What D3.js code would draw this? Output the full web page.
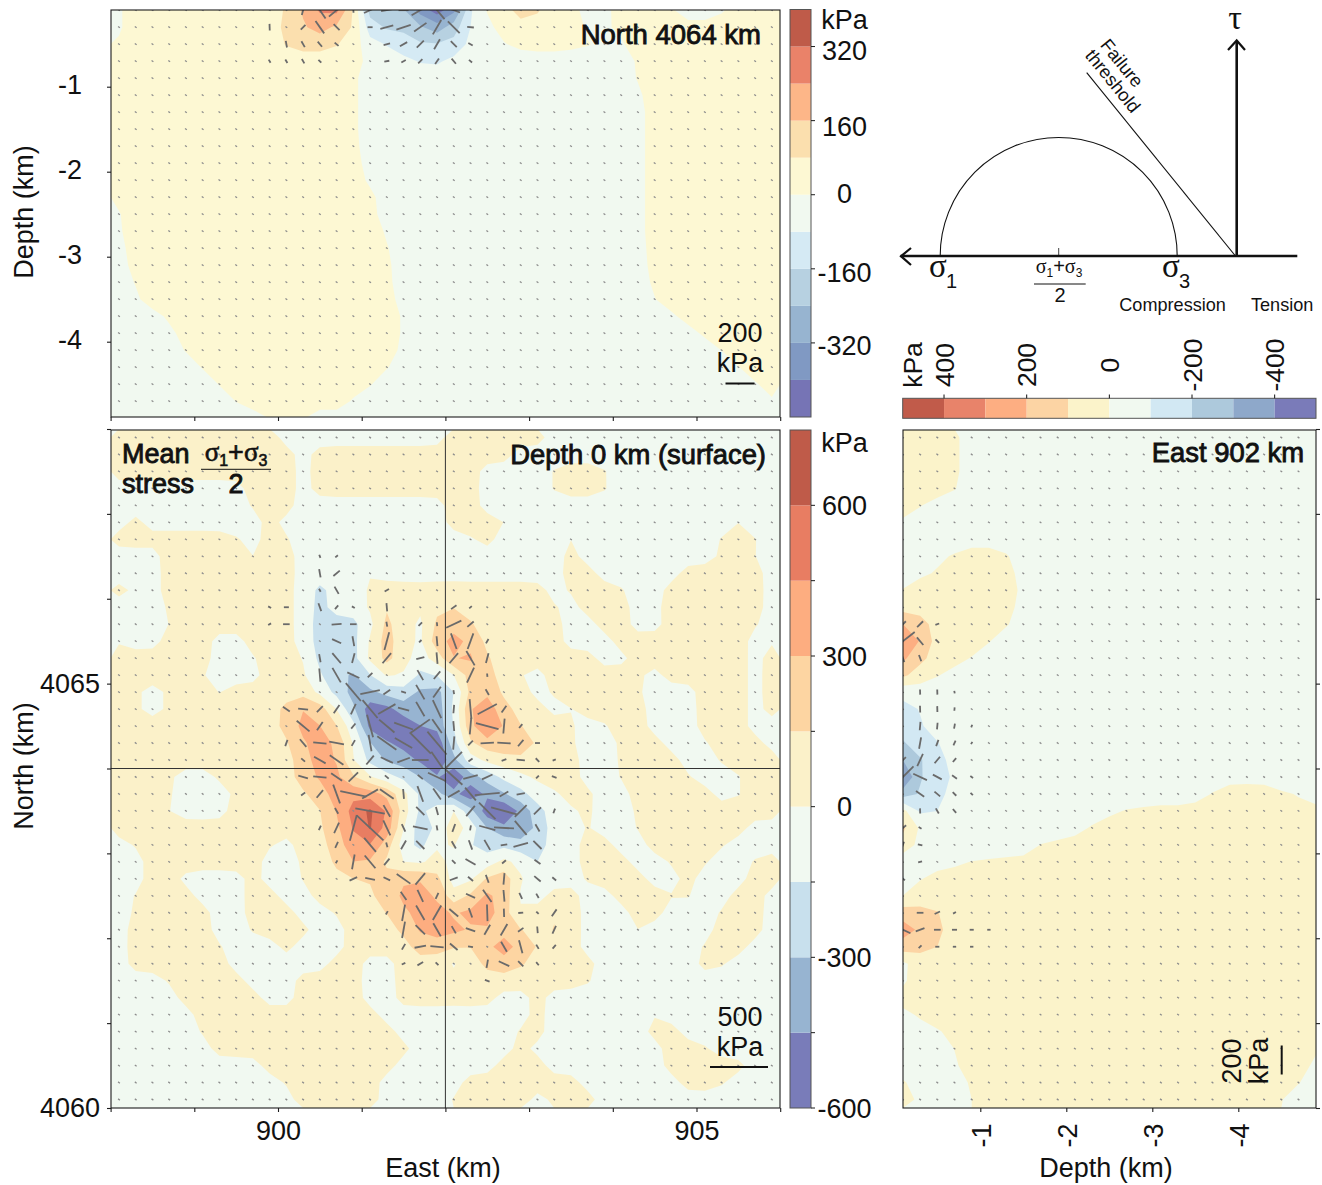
<!DOCTYPE html>
<html><head><meta charset="utf-8">
<script src="https://cdn.jsdelivr.net/npm/d3@7"></script>
<style>html,body{margin:0;padding:0;background:#fff}svg{display:block}text{font-family:"Liberation Sans",Arial,sans-serif;fill:#111}</style>
</head><body><svg id="c" width="1322" height="1185"></svg>
<script>
// ---------- colour bands ----------
const mainWarmLevels=[0,150,300,450,600];
const mainWarmColors=["#fbf1c9","#fdd5a2","#fdad80","#e87d62","#bf5b49"];
const mainCoolLevels=[-150,-300,-450];
const mainCoolColors=["#c8e0ed","#97b4d1","#797cb9"];
const mainGreen="#f1f9f1";
const topWarmLevels=[0,80,160,240,320];
const topWarmColors=["#fdf8d3","#fbdfae","#fdb688","#ea8269","#bf5b49"];
const topCoolLevels=[-80,-160,-240,-320,-400];
const topCoolColors=["#d5eaf4","#b7d1e1","#97b4d0","#8099c3","#7674b5"];
const eastWarmLevels=[0,100,200,300,400];
const eastWarmColors=["#fbf3ca","#fcd4a4","#fdae82","#e8836a","#c15b4a"];
const eastCoolLevels=[-100,-200,-300,-400];
const eastCoolColors=["#d2e8f3","#adc9dc","#8ea8ca","#7a7bb9"];

// ---------- stress field, surface (kPa), 40 rows north to south, 40 columns west to east ----------
const surfaceStress=[
[70,70,70,70,70,70,70,70,70,70, -70,-70,-70,-70,-70,-70,-70,-70,-70,-70, 70,70,70,70,70,70,-70,-70,-70,-70, -70,-70,-70,-70,-70,-70,-70,-70,-70,-70],
[70,70,70,70,70,70,70,70,70,70, 70,-70,70,70,70,70,70,70,70,70, 70,70,70,70,-70,-70,-70,-70,-70,-70, -70,-70,-70,-70,-70,-70,-70,-70,-70,-70],
[70,70,70,70,70,70,70,70,70,70, 70,-70,70,70,70,70,70,70,70,70, 70,70,-70,-70,-70,-70,20,70,70,20, -70,-70,-70,-70,-70,-70,-70,-70,-70,-70],
[-70,-70,-70,-70,-70,-70,-70,-70,70,70, 70,-70,70,70,70,70,70,70,70,70, 70,70,-70,-70,-70,-70,20,70,70,20, -70,-70,-70,-70,-70,-70,-70,-70,-70,-70],
[-70,-70,-70,-70,-70,-70,-70,-70,20,70, 70,-70,-70,-70,-70,-70,-70,-70,-70,-70, 70,70,-70,-70,-70,-70,-70,-70,-70,-70, 20,-70,-70,-70,-70,-70,-70,-70,-70,-70],
[-70,70,-70,-70,-70,-70,-70,-70,-70,70, -70,-70,-70,-70,-70,-70,-70,-70,-70,-70, 70,70,70,20,-70,-70,-70,-70,-70,-70, -70,-70,-70,-70,-70,-70,-70,20,-70,-70],
[70,70,70,70,70,70,70,20,-70,70, 20,-70,-70,-70,-70,-70,-70,-70,-70,-70, -70,-20,70,-70,-70,-70,-70,20,-70,-70, -70,-70,20,-70,-70,-70,20,70,20,-70],
[-70,-70,-70,70,70,70,70,70,-20,70, 70,-70,-70,-70,30,-70,-70,-70,-70,-70, -70,-70,-70,-70,-70,-70,-70,70,-70,-70, -70,-70,20,-70,-70,-70,20,70,-10,-70],
[-70,-70,-70,70,70,70,70,70,70,70, 70,-70,-70,-70,-70,20,-70,-70,-70,-70, -70,-70,-70,-70,-70,-70,-70,70,70,-70, -70,-70,-70,-70,70,70,70,70,70,-70],
[70,-20,-70,70,70,70,70,70,70,70, 70,-70,-220,-100,-70,20,70,70,70,70, 70,70,70,70,70,70,-70,20,70,70, 20,-70,-70,70,70,70,70,70,70,-70],
[-70,-70,-70,20,70,70,70,70,70,70, 70,-70,-220,-70,-70,20,160,60,10,120, 160,70,70,70,70,70,20,-70,70,70, 70,-70,-30,70,-20,70,70,70,70,-70],
[-70,-70,-70,-10,70,70,70,70,70,70, 70,-70,-220,-220,-220,-70,240,50,-70,200, 230,170,70,70,70,70,70,-70,-70,70, 70,-70,-70,70,70,70,70,70,20,-70],
[-10,-70,-70,70,70,70,-70,-70,70,70, 70,-70,-220,-220,-220,20,270,30,-60,280, 400,260,100,70,70,70,70,-70,-70,-70, 70,70,70,70,70,70,70,70,-70,-10],
[70,70,70,70,70,70,-70,-70,-20,70, 70,20,-220,-220,-220,70,250,60,-100,60, 360,360,150,70,70,70,70,70,70,-70, -70,70,70,70,70,70,70,70,-70,70],
[70,70,70,70,-20,10,-70,-70,-70,70, 70,20,-120,-300,-340,-170,50,20,-200,-140, -50,240,230,70,-10,-70,70,70,70,70, 70,20,-70,70,70,70,70,70,-70,70],
[70,20,-70,20,70,70,-30,70,70,70, 70,100,-70,-200,-400,-320,-250,-200,-340,-400, -180,200,280,100,70,-70,20,70,70,70, 70,20,-70,-70,-70,70,70,70,-70,70],
[70,20,-70,20,70,70,70,70,70,70, 200,330,280,0,-280,-600,-520,-350,-400,-420, -130,350,420,200,70,70,-70,-20,70,70, 70,70,-70,-70,-70,70,70,70,-70,70],
[70,70,70,70,70,70,70,70,70,70, 200,380,300,170,-60,-560,-620,-600,-430,-400, -160,280,540,280,140,70,70,20,-70,-20, 70,70,-70,-70,-70,70,70,70,-70,-70],
[70,70,70,70,70,70,70,70,70,70, 120,280,400,300,-10,-290,-420,-520,-540,-620, -200,160,230,280,300,120,70,20,-70,-70, 20,70,70,-70,-70,-20,70,70,70,-70],
[70,70,70,70,70,70,70,70,70,70, 70,230,400,310,-30,-200,-350,-370,-480,-680, -300,-50,60,90,110,70,70,70,-70,-70, 20,70,70,70,-70,-70,20,70,70,70],
[70,70,70,20,-70,-70,30,70,70,70, 70,230,340,350,160,-20,-100,-200,-290,-400, -700,-330,-270,-100,-30,30,70,70,-70,-70, 20,70,70,70,20,-70,-70,-20,70,70],
[-20,70,70,20,-70,-70,-70,20,70,70, 70,120,200,420,430,400,280,90,-190,-250, -420,-680,-380,-300,-200,-50,-30,50,50,-70, -70,70,70,70,70,70,-70,-20,70,70],
[70,70,70,-10,-70,-70,-70,70,70,70, 70,70,130,290,530,700,470,60,-220,-60, 80,-200,-640,-680,-420,-220,-60,-20,40,-70, -70,20,70,70,70,70,70,70,70,70],
[70,70,70,70,70,70,70,70,70,70, 70,70,120,260,460,680,420,0,-280,-170, 170,-40,-280,-420,-500,-250,-60,-70,20,-70, -70,20,70,70,70,70,70,70,-70,-70],
[-70,20,70,70,70,70,70,70,70,20, -70,70,70,230,400,470,230,-120,-250,20, 20,-160,-230,-180,-220,-250,-60,-70,70,70, -70,-70,70,70,70,70,20,-70,-70,-70],
[-70,-70,70,70,70,70,70,70,70,-70, -70,20,70,170,330,290,90,-40,-50,60, -40,-180,-100,70,-40,-160,-70,-70,70,70, 70,-70,-70,20,70,20,-70,-70,20,70],
[-70,-70,70,70,-70,-70,-70,-70,70,-70, -70,20,70,110,140,140,200,330,320,230, -130,-50,200,290,30,-170,-70,-70,20,70, 70,70,-70,-70,70,-70,-70,-70,70,70],
[-70,20,70,70,70,-70,-70,-70,70,70, -70,-70,70,70,70,130,220,340,400,290, 0,180,370,260,-60,-70,60,70,-70,-70, 70,70,70,20,20,-70,-70,70,70,-70],
[-70,20,70,70,70,70,-70,-70,70,70, 70,-70,-70,20,70,70,150,290,340,360, 290,360,420,200,-30,70,170,90,-70,-70, -70,70,70,-70,-70,-70,20,70,70,-70],
[-70,70,70,70,70,70,-70,-70,20,70, 70,70,-70,-70,70,70,70,180,330,420, 360,290,260,240,160,100,180,90,-70,-70, -70,20,-70,-70,-70,-70,70,70,70,-70],
[-70,70,70,70,70,70,20,-70,-70,-70, 70,-70,-70,-70,70,70,70,70,240,200, 170,120,280,420,270,140,100,70,-70,-70, -70,-70,-70,-70,-70,20,70,70,-70,-70],
[-70,70,70,70,70,70,70,-70,-70,-70, -70,-70,-70,70,70,-70,-70,70,70,70, -70,70,200,260,170,70,70,70,70,-70, -70,-70,-70,-70,-70,70,20,-70,-70,-70],
[-70,-70,-70,20,70,70,70,70,-70,-70, -70,70,70,70,70,-70,-70,70,70,70, 20,70,70,70,70,70,70,70,20,-70, -70,-70,-70,-70,-70,-70,-70,-70,-70,-70],
[-70,-70,-70,-70,70,70,70,70,70,-70, -70,70,70,70,70,-70,-70,70,70,70, 70,70,70,-70,-70,70,-70,-70,-70,-70, -70,-70,-70,-70,-70,-70,-70,-70,-70,-70],
[-70,-70,-70,-70,-70,70,70,70,70,70, 70,70,70,70,70,70,-70,-70,-70,-70, -70,-70,-70,-70,-70,70,-70,-70,-70,-70, -70,-70,10,-70,-70,-70,-70,-70,-70,-70],
[-70,-70,-70,-70,-70,20,70,70,70,70, 70,70,70,70,70,70,70,-70,-70,-70, -70,-70,-70,-70,20,70,-70,-70,-70,-70, -70,-70,70,70,-70,-70,-70,-70,-70,-70],
[-70,-70,-70,-70,-70,-70,70,70,70,70, 70,70,70,70,70,70,70,70,-70,-70, -70,-70,-70,-70,70,-70,-70,-70,-70,-70, -70,-70,-70,70,70,20,-70,-70,-70,-70],
[-70,-70,-70,-70,-70,-70,-70,-70,-70,70, 70,70,70,70,70,70,70,-70,-70,-70, -70,-70,-70,70,70,70,-70,-70,-70,-70, -70,-70,-70,70,70,70,70,70,-70,-70],
[-70,-70,-70,-70,-70,-70,-70,-70,-70,-70, 20,70,70,70,70,70,-70,-70,-70,-70, -70,70,70,70,70,70,70,70,-70,-70, -70,-70,-70,-70,70,70,20,-70,-70,-70],
[-70,-70,-70,-70,-70,-70,-70,-70,-70,-70, -70,70,70,70,70,70,-70,-70,-70,-70, 20,70,70,70,70,-70,20,70,70,-70, -70,-70,-70,-70,-70,-70,-70,-70,-70,-70]
];

// ---------- stress field, section at North 4064 km: 25 rows by depth, 40 columns ----------
const northStress=[
[-10,40,40,40,40,40,40,40,40,60, 85,170,250,260,70,-190,-210,-230,-350,-440, -340,-90,5,60,100,85,50,20,-20,-20, 30,40,40,5,-20,-20,-10,40,40,40],
[-10,40,40,40,40,40,40,40,40,40, 100,150,190,145,70,-120,-170,-180,-230,-280, -200,-80,-20,30,60,60,60,60,-15,-15, 20,40,40,15,15,15,40,40,40,40],
[10,40,40,40,40,40,40,40,40,40, 85,110,110,85,40,-50,-85,-120,-150,-155, -130,-60,-40,-5,20,30,30,20,5,-20, -10,40,40,40,40,40,40,40,40,40],
[40,40,40,40,40,40,40,40,40,40, 40,40,40,40,40,-30,-40,-60,-85,-90, -60,-30,-40,-40,-40,-40,-40,-40,-40,-40, -40,10,40,40,40,40,40,40,40,40],
[40,40,40,40,40,40,40,40,40,40, 40,40,40,40,20,-50,-40,-40,-40,-40, -40,-40,-40,-40,-40,-40,-40,-40,-40,-40, -40,5,40,40,40,40,40,40,40,40],
[40,40,40,40,40,40,40,40,40,40, 40,40,40,40,20,-50,-40,-40,-40,-40, -40,-40,-40,-40,-40,-40,-40,-40,-40,-40, -40,-15,40,40,40,40,40,40,40,40],
[40,40,40,40,40,40,40,40,40,40, 40,40,40,40,20,-50,-40,-40,-40,-40, -40,-40,-40,-40,-40,-40,-40,-40,-40,-40, -40,-30,40,40,40,40,40,40,40,40],
[40,40,40,40,40,40,40,40,40,40, 40,40,40,40,20,-50,-40,-40,-40,-40, -40,-40,-40,-40,-40,-40,-40,-40,-40,-40, -40,-30,40,40,40,40,40,40,40,40],
[40,40,40,40,40,40,40,40,40,40, 40,40,40,40,25,-45,-40,-40,-40,-40, -40,-40,-40,-40,-40,-40,-40,-40,-40,-40, -40,-30,40,40,40,40,40,40,40,40],
[40,40,40,40,40,40,40,40,40,40, 40,40,40,40,30,-30,-40,-40,-40,-40, -40,-40,-40,-40,-40,-40,-40,-40,-40,-40, -40,-30,40,40,40,40,40,40,40,40],
[30,40,40,40,40,40,40,40,40,40, 40,40,40,40,40,-15,-40,-40,-40,-40, -40,-40,-40,-40,-40,-40,-40,-40,-40,-40, -40,-30,40,40,40,40,40,40,40,40],
[20,40,40,40,40,40,40,40,40,40, 40,40,40,40,40,20,-40,-40,-40,-40, -40,-40,-40,-40,-40,-40,-40,-40,-40,-40, -40,-30,40,40,40,40,40,40,40,40],
[-5,40,40,40,40,40,40,40,40,40, 40,40,40,40,40,30,-40,-40,-40,-40, -40,-40,-40,-40,-40,-40,-40,-40,-40,-40, -40,-30,40,40,40,40,40,40,40,40],
[-10,40,40,40,40,40,40,40,40,40, 40,40,40,40,40,40,-10,-40,-40,-40, -40,-40,-40,-40,-40,-40,-40,-40,-40,-40, -40,-30,40,40,40,40,40,40,40,40],
[-20,30,40,40,40,40,40,40,40,40, 40,40,40,40,40,40,5,-40,-40,-40, -40,-40,-40,-40,-40,-40,-40,-40,-40,-40, -40,-35,35,40,40,40,40,40,40,40],
[-30,25,40,40,40,40,40,40,40,40, 40,40,40,40,40,40,15,-40,-40,-40, -40,-40,-40,-40,-40,-40,-40,-40,-40,-40, -40,-40,30,40,40,40,40,40,40,40],
[-40,5,40,40,40,40,40,40,40,40, 40,40,40,40,40,40,20,-40,-40,-40, -40,-40,-40,-40,-40,-40,-40,-40,-40,-40, -40,-40,15,40,40,40,40,40,40,40],
[-40,-15,40,40,40,40,40,40,40,40, 40,40,40,40,40,40,30,-30,-40,-40, -40,-40,-40,-40,-40,-40,-40,-40,-40,-40, -40,-40,-3,40,40,40,40,40,40,40],
[-40,-40,-30,15,40,40,40,40,40,40, 40,40,40,40,40,40,40,-10,-40,-40, -40,-40,-40,-40,-40,-40,-40,-40,-40,-40, -40,-40,-40,-15,30,40,40,40,40,40],
[-40,-40,-40,-20,30,40,40,40,40,40, 40,40,40,40,40,40,40,-10,-40,-40, -40,-40,-40,-40,-40,-40,-40,-40,-40,-40, -40,-40,-40,-40,-30,15,40,40,40,40],
[-40,-40,-40,-40,5,40,40,40,40,40, 40,40,40,40,40,40,35,-20,-40,-40, -40,-40,-40,-40,-40,-40,-40,-40,-40,-40, -40,-40,-40,-40,-40,-40,1,40,40,40],
[-40,-40,-40,-40,-40,5,40,40,40,40, 40,40,40,40,40,40,5,-40,-40,-40, -40,-40,-40,-40,-40,-40,-40,-40,-40,-40, -40,-40,-40,-40,-40,-40,-40,-3,40,40],
[-40,-40,-40,-40,-40,-40,3,40,40,40, 40,40,40,40,40,5,-40,-40,-40,-40, -40,-40,-40,-40,-40,-40,-40,-40,-40,-40, -40,-40,-40,-40,-40,-40,-40,-40,-8,30],
[-40,-40,-40,-40,-40,-40,-40,2,40,40, 40,40,40,40,-10,-40,-40,-40,-40,-40, -40,-40,-40,-40,-40,-40,-40,-40,-40,-40, -40,-40,-40,-40,-40,-40,-40,-40,-40,-10],
[-40,-40,-40,-40,-40,-40,-40,-40,-40,3, 20,5,-40,-40,-40,-40,-40,-40,-40,-40, -40,-40,-40,-40,-40,-40,-40,-40,-40,-40, -40,-40,-40,-40,-40,-40,-40,-40,-40,-40]
];

// ---------- stress field, section at East 902 km: 40 rows north to south, 25 columns by depth ----------
const eastStress=[
[50,50,50,20,-50,-50,-50,-50,-50,-50, -50,-50,-50,-50,-50,-50,-50,-50,-50,-50, -50,-50,-50,-50,-50],
[50,50,50,20,-50,-50,-50,-50,-50,-50, -50,-50,-50,-50,-50,-50,-50,-50,-50,-50, -50,-50,-50,-50,-50],
[50,50,50,20,-50,-50,-50,-50,-50,-50, -50,-50,-50,-50,-50,-50,-50,-50,-50,-50, -50,-50,-50,-50,-50],
[50,50,50,5,-50,-50,-50,-50,-50,-50, -50,-50,-50,-50,-50,-50,-50,-50,-50,-50, -50,-50,-50,-50,-50],
[30,5,-40,-50,-50,-50,-50,-50,-50,-50, -50,-50,-50,-50,-50,-50,-50,-50,-50,-50, -50,-50,-50,-50,-50],
[-10,-50,-50,-50,-50,-50,-50,-50,-50,-50, -50,-50,-50,-50,-50,-50,-50,-50,-50,-50, -50,-50,-50,-50,-50],
[-50,-50,-50,-50,-50,-50,-50,-50,-50,-50, -50,-50,-50,-50,-50,-50,-50,-50,-50,-50, -50,-50,-50,-50,-50],
[-50,-50,-20,10,50,50,10,-50,-50,-50, -50,-50,-50,-50,-50,-50,-50,-50,-50,-50, -50,-50,-50,-50,-50],
[-50,-20,10,50,50,50,30,-30,-50,-50, -50,-50,-50,-50,-50,-50,-50,-50,-50,-50, -50,-50,-50,-50,-50],
[5,50,50,50,50,50,50,-25,-50,-50, -50,-50,-50,-50,-50,-50,-50,-50,-50,-50, -50,-50,-50,-50,-50],
[60,50,50,50,50,50,30,-30,-50,-50, -50,-50,-50,-50,-50,-50,-50,-50,-50,-50, -50,-50,-50,-50,-50],
[200,150,50,50,50,50,10,-50,-50,-50, -50,-50,-50,-50,-50,-50,-50,-50,-50,-50, -50,-50,-50,-50,-50],
[310,190,60,50,50,5,-50,-50,-50,-50, -50,-50,-50,-50,-50,-50,-50,-50,-50,-50, -50,-50,-50,-50,-50],
[220,130,50,30,-5,-50,-50,-50,-50,-50, -50,-50,-50,-50,-50,-50,-50,-50,-50,-50, -50,-50,-50,-50,-50],
[120,50,5,-30,-50,-50,-50,-50,-50,-50, -50,-50,-50,-50,-50,-50,-50,-50,-50,-50, -50,-50,-50,-50,-50],
[-70,-50,-50,-50,-50,-50,-50,-50,-50,-50, -50,-50,-50,-50,-50,-50,-50,-50,-50,-50, -50,-50,-50,-50,-50],
[-130,-95,-50,-50,-50,-50,-50,-50,-50,-50, -50,-50,-50,-50,-50,-50,-50,-50,-50,-50, -50,-50,-50,-50,-50],
[-150,-110,-60,-50,-50,-50,-50,-50,-50,-50, -50,-50,-50,-50,-50,-50,-50,-50,-50,-50, -50,-50,-50,-50,-50],
[-210,-150,-105,-50,-50,-50,-50,-50,-50,-50, -50,-50,-50,-50,-50,-50,-50,-50,-50,-50, -50,-50,-50,-50,-50],
[-300,-210,-130,-70,-50,-50,-50,-50,-50,-50, -50,-50,-50,-50,-50,-50,-50,-50,-50,-50, -50,-50,-50,-50,-50],
[-410,-210,-140,-85,-50,-50,-50,-50,-50,-50, -50,-50,-50,-50,-50,-50,-50,-50,-50,-25, -25,-25,-50,-50,-50],
[-250,-190,-125,-70,-50,-50,-50,-50,-50,-50, -50,-50,-50,-50,-50,-50,-50,-40,5,30, 35,30,12,-5,-15],
[30,-115,-100,-50,-50,-50,-50,-50,-50,-50, -50,-50,-15,5,15,25,25,40,50,50, 50,50,50,20,10],
[120,-15,-50,-50,-50,-50,-50,-50,-50,-50, -30,10,30,50,50,50,50,50,50,50, 50,50,50,50,50],
[60,-30,-50,-50,-50,-50,-50,-50,2,20, 35,50,50,50,50,50,50,50,50,50, 50,50,50,50,50],
[-60,-40,-30,-15,2,10,18,30,50,50, 50,50,50,50,50,50,50,50,50,50, 50,50,50,50,50],
[-110,-5,25,35,50,50,50,50,50,50, 50,50,50,50,50,50,50,50,50,50, 50,50,50,50,50],
[2,50,50,50,50,50,50,50,50,50, 50,50,50,50,50,50,50,50,50,50, 50,50,50,50,50],
[150,130,105,50,50,50,50,50,50,50, 50,50,50,50,50,50,50,50,50,50, 50,50,50,50,50],
[250,180,125,50,50,50,50,50,50,50, 50,50,50,50,50,50,50,50,50,50, 50,50,50,50,50],
[150,130,100,50,50,50,50,50,50,50, 50,50,50,50,50,50,50,50,50,50, 50,50,50,50,50],
[-20,50,50,50,50,50,50,50,50,50, 50,50,50,50,50,50,50,50,50,50, 50,50,50,50,50],
[-15,50,50,50,50,50,50,50,50,50, 50,50,50,50,50,50,50,50,50,50, 50,50,50,50,50],
[30,50,50,50,50,50,50,50,50,50, 50,50,50,50,50,50,50,50,50,50, 50,50,50,50,50],
[-20,10,50,50,50,50,50,50,50,50, 50,50,50,50,50,50,50,50,50,50, 50,50,50,50,50],
[-50,-30,-10,30,50,50,50,50,50,50, 50,50,50,50,50,50,50,50,50,50, 50,50,50,50,50],
[-50,-50,-50,2,50,50,50,50,50,50, 50,50,50,50,50,50,50,50,50,50, 50,50,50,50,10],
[-50,-50,-50,-15,50,50,50,50,50,50, 50,50,50,50,50,50,50,50,50,50, 50,50,50,30,-15],
[10,-40,-50,-50,15,50,50,50,50,50, 50,50,50,50,50,50,50,50,50,50, 50,50,50,3,-30],
[40,-20,-50,-50,0,50,50,50,50,50, 50,50,50,50,50,50,50,50,50,50, 50,50,3,-30,-50]
];

// ---------- long stress bars: [column, row, differential stress kPa, azimuth deg] ----------
const surfaceBars=[[12,7,29,70],[13,7,29,-40],[12,8,72,80],[13,8,72,-40],[12,9,29,60],[13,9,72,60],[16,9,43,-30],
[9,10,29,30],[10,10,43,0],[12,10,72,70],[13,10,43,-50],[14,10,29,30],[16,10,72,85],[20,10,57,-35],[21,10,29,-40],
[9,11,29,-30],[10,11,57,0],[13,11,86,-5],[14,11,57,0],[16,11,43,80],[18,11,43,-45],[19,11,34,85],[20,11,144,-25],[21,11,72,-40],
[13,12,86,25],[14,12,86,80],[16,12,158,-75],[18,12,29,-45],[19,12,86,85],[20,12,144,70],[21,12,144,-70],[22,12,43,-60],
[12,13,72,80],[13,13,115,50],[14,13,86,-75],[16,13,115,-50],[18,13,72,-15],[19,13,100,85],[20,13,115,-50],[21,13,144,60],[22,13,86,-75],
[12,14,115,85],[13,14,144,60],[14,14,115,25],[15,14,57,-45],[18,14,100,60],[19,14,86,-50],[21,14,144,-65],[22,14,29,85],
[14,15,201,50],[15,15,172,-12],[16,15,72,-35],[17,15,43,15],[18,15,144,60],[19,15,115,-55],[20,15,34,80],[22,15,57,60],
[10,16,72,35],[11,16,86,5],[12,16,72,-45],[13,16,86,-55],[14,16,100,-65],[15,16,201,50],[16,16,172,-30],[17,16,100,15],[18,16,144,60],[19,16,172,65],[20,16,72,-85],[21,16,172,85],[22,16,187,-28],[23,16,72,-55],
[11,17,144,40],[12,17,86,-55],[14,17,57,-50],[15,17,201,75],[16,17,172,40],[17,17,172,20],[18,17,201,-35],[19,17,144,55],[20,17,86,85],[21,17,144,-85],[22,17,201,15],[23,17,129,-85],[24,17,43,-50],
[10,18,57,-70],[11,18,86,50],[12,18,115,5],[13,18,129,10],[14,18,57,-60],[15,18,144,80],[16,18,201,35],[17,18,172,30],[18,18,258,45],[19,18,258,50],[20,18,115,-85],[21,18,57,-45],[22,18,115,-3],[23,18,115,3],[24,18,72,-50],[25,18,43,0],
[11,19,43,40],[12,19,115,30],[13,19,144,35],[15,19,100,-50],[16,19,115,25],[17,19,115,-20],[18,19,144,0],[19,19,172,55],[20,19,201,-45],[21,19,43,-35],[23,19,43,-20],[24,19,72,5],[25,19,43,45],[26,19,29,-20],
[11,20,86,15],[12,20,115,5],[13,20,115,35],[14,20,115,-45],[16,20,43,40],[18,20,57,40],[19,20,172,25],[20,20,200,42],[21,20,129,-15],[22,20,100,-25],[25,20,34,-45],[26,20,43,20],
[11,21,43,-35],[12,21,86,-50],[13,21,172,70],[14,21,230,12],[15,21,158,-30],[16,21,144,35],[17,21,86,85],[18,21,144,70],[19,21,115,55],[20,21,115,-30],[21,21,144,50],[22,21,215,-5],[23,21,86,-30],[24,21,72,-10],
[13,22,57,60],[15,22,258,10],[16,22,115,60],[18,22,100,45],[19,22,72,75],[21,22,115,-50],[22,22,201,45],[23,22,230,15],[24,22,144,-45],[25,22,86,-45],[26,22,43,-70],
[12,23,43,-65],[13,23,100,-65],[14,23,230,-75],[15,23,316,43],[16,23,144,65],[17,23,72,65],[18,23,129,12],[19,23,43,80],[20,23,72,-70],[21,23,43,-80],[22,23,144,15],[23,23,172,3],[24,23,158,50],[25,23,72,60],
[13,24,57,-65],[15,24,158,50],[16,24,43,75],[17,24,86,-60],[18,24,100,45],[20,24,72,60],[21,24,86,70],[22,24,100,60],[23,24,57,-10],[24,24,129,-15],[25,24,100,45],
[13,25,29,-60],[14,25,129,-80],[15,25,144,50],[16,25,72,-50],[20,25,43,45],[21,25,100,30],[23,25,43,-40],[25,25,63,35],
[14,26,72,-25],[15,26,86,12],[16,26,63,25],[17,26,144,35],[18,26,129,-50],[20,26,72,-20],[21,26,57,40],[22,26,72,70],[23,26,100,-85],[25,26,72,40],[26,26,43,40],
[17,27,86,55],[18,27,115,65],[19,27,57,-65],[21,27,86,25],[22,27,129,55],[23,27,100,85],[24,27,57,65],[25,27,43,60],
[16,28,34,-60],[17,28,144,-80],[18,28,144,60],[19,28,144,-60],[20,28,100,40],[21,28,86,70],[22,28,144,88],[23,28,72,88],[24,28,43,-5],[25,28,29,45],[26,28,72,-55],
[17,29,144,-80],[18,29,115,45],[19,29,129,60],[20,29,72,60],[21,29,86,20],[22,29,100,-60],[23,29,115,-60],[24,29,57,-35],[25,29,57,85],[26,29,72,-65],
[17,30,57,-60],[18,30,100,-10],[19,30,115,5],[20,30,86,40],[21,30,43,10],[23,30,100,60],[24,30,115,75],[25,30,43,60],[26,30,43,-50],
[17,31,34,-25],[18,31,57,-30],[19,31,34,45],[22,31,72,-80],[23,31,100,25],[24,31,63,45],[25,31,34,50],[22,32,43,20]];
const northBars=[[11,0,69,-75],[12,0,138,55],[13,0,138,-40],[14,0,35,85],[15,0,92,-25],[16,0,80,-10],[17,0,69,0],[18,0,138,-30],[19,0,161,50],[20,0,92,20],
[9,1,46,88],[11,1,46,-45],[12,1,104,55],[13,1,58,45],[15,1,35,0],[16,1,92,-15],[17,1,104,-18],[18,1,104,-35],[19,1,115,-60],[20,1,115,45],[21,1,46,5],
[10,2,46,80],[11,2,46,60],[12,2,46,50],[13,2,35,40],[16,2,46,-15],[17,2,58,-30],[18,2,69,-45],[19,2,80,-60],[20,2,58,45],[21,2,35,30],
[9,3,25,60],[10,3,28,60],[11,3,35,60],[12,3,28,45],[16,3,35,-10],[17,3,35,-30],[18,3,41,-45],[19,3,46,-55],[20,3,46,50],[21,3,28,40]];
const eastBars=[[0,11,58,-45],[1,11,58,-45],[2,11,28,-20],[0,12,207,-38],[1,12,69,50],[2,12,35,45],[0,13,58,70],[1,13,46,70],
[1,15,35,88],[2,15,35,88],[3,15,18,80],[1,16,46,88],[2,16,41,88],[3,16,23,-85],[1,17,58,-85],[2,17,46,-85],[3,17,35,-80],[4,17,20,-70],
[1,18,80,-80],[2,18,46,-70],[3,18,35,-65],[4,18,18,-60],[0,19,58,-45],[1,19,92,-65],[2,19,58,-50],[3,19,35,-50],
[0,20,207,-45],[1,20,104,25],[2,20,69,28],[3,20,41,35],[4,20,23,35],[1,21,69,35],[2,21,51,40],[3,21,35,45],[4,21,23,45],
[1,22,35,88],[2,22,41,60],[3,22,35,50],[0,23,58,-40],[1,23,23,30],[0,24,46,-70],[1,24,32,15],[1,25,28,-15],[0,26,35,35],
[1,28,46,0],[2,28,41,-25],[3,28,23,-30],[0,29,115,25],[1,29,64,-20],[2,29,46,0],[3,29,35,0],[4,29,28,0],[5,29,23,0],
[1,30,28,-45],[2,30,28,0],[3,30,23,0],[4,30,23,0]];

// ---------- axis ticks ----------
const eastTicks=[898,899,900,901,902,903,904,905,906];
const eastLabelled=[900,905];
const northTicks=[4060,4061,4062,4063,4064,4065,4066,4067,4068];
const northLabelled=[4060,4065];
const depthTicks=[-1,-2,-3,-4];
const mainBarTicks=[-600,-450,-300,-150,0,150,300,450,600];
const mainBarLabels=[-600,-300,0,300,600];
const topBarTicks=[-320,-160,0,160,320];
const sideBarTicks=[400,200,0,-200,-400];

// ---------- scales (km) ----------
const xEast=d3.scaleLinear().domain([898,906]).range([110.6,780.2]);
const yNorth=d3.scaleLinear().domain([4060,4068]).range([1108,429]);
const yDepth=d3.scaleLinear().domain([0,-4]).range([1.7,341.7]);
const xDepth=d3.scaleLinear().domain([0,-4]).range([894.3,1238.3]);
const nodeEast=i=>898.1+0.2*i, nodeNorth=j=>4067.9-0.2*j, nodeDepth=k=>-0.1-0.2*k;
const yBar=d3.scaleLinear().domain([-600,750]).range([1108,430]);
const yTopBar=d3.scaleLinear().domain([-480,400]).range([417,9.5]);
const xSideBar=d3.scaleLinear().domain([500,-500]).range([902.7,1316]);

const svg=d3.select("#c");
const ink="#1c1c1c";
const defs=svg.append("defs");

// light relaxation of a grid so that the filled contours are not stair-stepped
function relax(vals,n,m,w){
  return vals.map((v,idx)=>{
    const i=idx%n,j=Math.floor(idx/n);
    const nb=[i>0?vals[idx-1]:v,i<n-1?vals[idx+1]:v,j>0?vals[idx-n]:v,j<m-1?vals[idx+n]:v];
    return (1-4*w)*v+w*d3.sum(nb);
  });
}

function field(cfg){
  const {rows,box,px,py,warm,warmC,cool,coolC,base,bars,stress,skipLastCol,skipLastRow,id,soften}=cfg;
  const m=rows.length,n=rows[0].length;
  let vals=rows.flatMap(r=>d3.range(n).map(i=>r[i]??r[r.length-1]));
  if(soften)vals=relax(vals,n,m,soften);
  const sx=d3.scaleLinear().domain([.5,n-.5]).range([px(0),px(n-1)]);
  const sy=d3.scaleLinear().domain([.5,m-.5]).range([py(0),py(m-1)]);
  const path=d3.geoPath(d3.geoTransform({point(x,y){this.stream.point(sx(x),sy(y));}}));
  defs.append("clipPath").attr("id",id).append("rect").attr("x",box[0]).attr("y",box[1]).attr("width",box[2]).attr("height",box[3]);
  const g=svg.append("g").attr("clip-path",`url(#${id})`);
  g.append("rect").attr("x",box[0]).attr("y",box[1]).attr("width",box[2]).attr("height",box[3]).attr("fill",base);
  const gen=d3.contours().size([n,m]).smooth(true);
  warm.forEach((t,i)=>g.append("path").attr("d",path(gen.contour(vals,t))).attr("fill",warmC[i]));
  const neg=vals.map(v=>-v);
  cool.forEach((t,i)=>g.append("path").attr("d",path(gen.contour(neg,-t))).attr("fill",coolC[i]));
  // stress bars at every grid node
  const big=new Map(bars.map(b=>[b[0]+","+b[1],b]));
  const ticks=[];
  for(let j=0;j<m-(skipLastRow?1:0);j++)for(let i=0;i<n-(skipLastCol?1:0);i++){
    const b=big.get(i+","+j);
    ticks.push({x:px(i),y:py(j),len:b?stress(b[2]):2.2,a:(b?b[3]:35)*Math.PI/180,big:!!b});
  }
  g.selectAll("line.s").data(ticks).join("line").attr("class","s")
   .attr("x1",d=>d.x-d.len/2*Math.cos(d.a)).attr("y1",d=>d.y-d.len/2*Math.sin(d.a))
   .attr("x2",d=>d.x+d.len/2*Math.cos(d.a)).attr("y2",d=>d.y+d.len/2*Math.sin(d.a))
   .attr("stroke",d=>d.big?"#6a6a6a":"#8c8c8c").attr("stroke-width",d=>d.big?1.8:1.3);
  return g;
}
const stressMain=d3.scaleLinear().domain([0,500]).range([0,58]);
const stressSide=d3.scaleLinear().domain([0,200]).range([0,29]);

const boxTop=[111,10,669,407],boxMain=[111,430,669,678],boxEast=[903,430,413,678];
field({id:"cn",rows:northStress,box:boxTop,px:i=>xEast(nodeEast(i)),py:j=>yDepth(nodeDepth(j)),warm:topWarmLevels,warmC:topWarmColors,cool:topCoolLevels,coolC:topCoolColors,base:"#f1f9f0",bars:northBars,stress:stressSide,skipLastRow:true});
const mainG=field({id:"cm",rows:surfaceStress,box:boxMain,px:i=>xEast(nodeEast(i)),py:j=>yNorth(nodeNorth(j)),warm:mainWarmLevels,warmC:mainWarmColors,cool:mainCoolLevels,coolC:mainCoolColors,base:mainGreen,bars:surfaceBars,stress:stressMain,soften:.1});
field({id:"ce",rows:eastStress,box:boxEast,px:k=>xDepth(nodeDepth(k)),py:j=>yNorth(nodeNorth(j)),warm:eastWarmLevels,warmC:eastWarmColors,cool:eastCoolLevels,coolC:eastCoolColors,base:"#f1f9f0",bars:eastBars,stress:stressSide,skipLastCol:true});

// cross-hair of the section lines
mainG.append("line").attr("x1",xEast(902)).attr("x2",xEast(902)).attr("y1",430).attr("y2",1108).attr("stroke","#333").attr("stroke-width",1);
mainG.append("line").attr("x1",111).attr("x2",780).attr("y1",yNorth(4064)).attr("y2",yNorth(4064)).attr("stroke","#333").attr("stroke-width",1);

// frames
[boxTop,boxMain,boxEast].forEach(b=>svg.append("rect").attr("x",b[0]).attr("y",b[1]).attr("width",b[2]).attr("height",b[3]).attr("fill","none").attr("stroke",ink).attr("stroke-width",1.1));

function txt(x,y,s,o={}){
  const t=svg.append("text").attr("x",x).attr("y",y).text(s).attr("font-size",o.size||27).attr("text-anchor",o.anchor||"start");
  if(o.rot!=null)t.attr("transform",`rotate(${o.rot} ${x} ${y})`);
  if(o.bold)t.attr("stroke","#111").attr("stroke-width",.85);
  if(o.family)t.style("font-family",o.family);
  return t;
}
function styleAxis(sel){
  sel.select(".domain").remove();
  sel.selectAll(".tick line").attr("stroke",ink).attr("stroke-width",1.1);
  sel.selectAll("text").attr("font-size",27).style("font-family",'"Liberation Sans"').attr("fill","#111");
}
// top panel axes
svg.append("g").attr("transform","translate(0,417)").call(d3.axisBottom(xEast).tickValues(eastTicks).tickSize(4).tickFormat("")).call(styleAxis);
svg.append("g").attr("transform","translate(111,0)").call(d3.axisLeft(yDepth).tickValues(depthTicks).tickSize(4).tickFormat(d=>d).tickPadding(25)).call(styleAxis)
  .call(g=>g.selectAll("text").attr("dy",".30em").attr("transform","translate(0,-1.5)"));
// main panel axes
svg.append("g").attr("transform","translate(0,1108)").call(d3.axisBottom(xEast).tickValues(eastTicks).tickSize(4).tickPadding(9).tickFormat(d=>eastLabelled.includes(d)?d:"")).call(styleAxis);
svg.append("g").attr("transform","translate(111,0)").call(d3.axisLeft(yNorth).tickValues(northTicks).tickSize(4).tickPadding(7).tickFormat(d=>northLabelled.includes(d)?d:"")).call(styleAxis);
// east panel axes
svg.append("g").attr("transform","translate(0,1108)").call(d3.axisBottom(xDepth).tickValues(depthTicks).tickSize(4).tickFormat(d=>d)).call(styleAxis)
  .call(g=>g.selectAll("text").attr("text-anchor","middle").attr("dy",0).attr("y",0).attr("transform","translate(10,27.5) rotate(-90)"));
svg.append("g").attr("transform","translate(1316,0)").call(d3.axisRight(yNorth).tickValues(northTicks).tickSize(4).tickFormat("")).call(styleAxis);

txt(33,212,"Depth (km)",{anchor:"middle",rot:-90});
txt(33,766,"North (km)",{anchor:"middle",rot:-90});
txt(443,1177,"East (km)",{anchor:"middle"});
txt(1106,1177,"Depth (km)",{anchor:"middle"});

// panel titles
txt(761,44,"North 4064 km",{anchor:"end",bold:true,size:27.5});
txt(766,464,"Depth 0 km (surface)",{anchor:"end",bold:true,size:27.4});
txt(1304,462,"East 902 km",{anchor:"end",bold:true,size:27.4});
txt(122,463,"Mean",{bold:true});
txt(122,493,"stress",{bold:true});
function sigmaFrac(cx,y,size,subSize,subDy,bold){
  const t=svg.append("text").attr("x",cx).attr("y",y).attr("text-anchor","middle").attr("font-size",size);
  if(bold)t.attr("stroke","#111").attr("stroke-width",.6);
  const serif='"Liberation Serif"';
  t.append("tspan").text("σ").style("font-family",serif);
  t.append("tspan").text("1").attr("font-size",subSize).attr("dy",subDy);
  t.append("tspan").text("+").attr("dy",-subDy);
  t.append("tspan").text("σ").style("font-family",serif);
  t.append("tspan").text("3").attr("font-size",subSize).attr("dy",subDy);
}
sigmaFrac(236,461,27,16,5,true);
svg.append("line").attr("x1",201).attr("x2",271).attr("y1",469.3).attr("y2",469.3).attr("stroke","#111").attr("stroke-width",1);
txt(236,493,"2",{anchor:"middle",bold:true});

// scale bars
function rule(x1,y1,x2,y2,w){svg.append("line").attr("x1",x1).attr("y1",y1).attr("x2",x2).attr("y2",y2).attr("stroke","#111").attr("stroke-width",w);}
const cxTop=740;
txt(cxTop,341.5,"200",{anchor:"middle"});txt(cxTop,371.5,"kPa",{anchor:"middle"});
rule(cxTop-stressSide(100),383.5,cxTop+stressSide(100),383.5,2);
txt(740,1026,"500",{anchor:"middle"});txt(740,1056,"kPa",{anchor:"middle"});
rule(739-stressMain(250),1067,739+stressMain(250),1067,2);
txt(1241,1061,"200",{anchor:"middle",rot:-90});txt(1268,1061,"kPa",{anchor:"middle",rot:-90});
rule(1281.7,1060-stressSide(100),1281.7,1060+stressSide(100),2);

// vertical colour bars
function vbar(scale,edges,colors,x,w,ticks,labels,labelDy){
  const g=svg.append("g");
  colors.forEach((c,i)=>g.append("rect").attr("x",x).attr("width",w).attr("y",scale(edges[i+1])).attr("height",scale(edges[i])-scale(edges[i+1])).attr("fill",c));
  g.append("rect").attr("x",x).attr("width",w).attr("y",scale(edges[edges.length-1])).attr("height",scale(edges[0])-scale(edges[edges.length-1])).attr("fill","none").attr("stroke","#555").attr("stroke-width",1);
  ticks.forEach(t=>g.append("line").attr("x1",x+w).attr("x2",x+w+4).attr("y1",scale(t)).attr("y2",scale(t)).attr("stroke",ink));
  labels.forEach(t=>txt(844.5,scale(t)+(labelDy.get?labelDy.get(t):labelDy),t,{anchor:"middle"}));
}
vbar(yBar,[-600,-450,-300,-150,0,150,300,450,600,750],["#797cb9","#97b4d1","#c8e0ed","#f1f9f1","#fbf1c9","#fdd5a2","#fdad80","#e87d62","#bf5b49"],790,21,mainBarTicks,mainBarLabels,9.5);
txt(844.5,452,"kPa",{anchor:"middle"});
vbar(yTopBar,[-480,-400,-320,-240,-160,-80,0,80,160,240,320,400],["#7674b5","#8099c3","#97b4d0","#b7d1e1","#d5eaf4","#f1f9f0","#fdf8d3","#fbdfae","#fdb688","#ea8269","#bf5b49"],790,21,topBarTicks,topBarTicks,new Map([[320,13],[160,15],[0,8],[-160,13],[-320,12]]));
txt(844.5,29,"kPa",{anchor:"middle"});

// horizontal colour bar
(function(){
  const edges=[500,400,300,200,100,0,-100,-200,-300,-400,-500];
  const colors=["#c15b4a","#e8836a","#fdae82","#fcd4a4","#fbf3ca","#f1f9f0","#d2e8f3","#adc9dc","#8ea8ca","#7a7bb9"];
  colors.forEach((c,i)=>svg.append("rect").attr("x",xSideBar(edges[i])).attr("width",xSideBar(edges[i+1])-xSideBar(edges[i])).attr("y",398.3).attr("height",20).attr("fill",c));
  svg.append("rect").attr("x",xSideBar(500)).attr("width",xSideBar(-500)-xSideBar(500)).attr("y",398.3).attr("height",20).attr("fill","none").attr("stroke","#555");
  sideBarTicks.forEach(t=>{
    rule(xSideBar(t),394.5,xSideBar(t),398.3,1);
    txt(xSideBar(t)+9.5,365,t,{anchor:"middle",rot:-90,size:26.5});
  });
  txt(922,365,"kPa",{anchor:"middle",rot:-90,size:26.5});
})();

// Mohr diagram
const yAxisM=256,xTau=1236.7,cxM=1058.7,rM=118.5;
rule(900.5,yAxisM,1297.3,yAxisM,2.6);
rule(xTau,yAxisM,xTau,41,2.6);
svg.append("path").attr("d",d3.line()([[911,248],[901,256.2],[911,265]])).attr("fill","none").attr("stroke","#111").attr("stroke-width",2.2);
svg.append("path").attr("d",d3.line()([[1228,50],[xTau,40.5],[1245,50]])).attr("fill","none").attr("stroke","#111").attr("stroke-width",2.2);
svg.append("path").attr("d",d3.arc()({innerRadius:rM,outerRadius:rM,startAngle:-Math.PI/2,endAngle:Math.PI/2})).attr("transform",`translate(${cxM},${yAxisM})`).attr("fill","none").attr("stroke","#111").attr("stroke-width",1.1);
rule(1235.5,yAxisM,1086.7,72.7,1.1);
rule(cxM,248,cxM,yAxisM,.8);
const serif='"Liberation Serif"';
txt(1235,29,"τ",{anchor:"middle",size:34,family:serif});
txt(929,277,"σ",{size:33,family:serif});txt(946,288,"1",{size:20});
txt(1162,277,"σ",{size:33,family:serif});txt(1179,288,"3",{size:20});
sigmaFrac(1059,273,20,12,4,false);
rule(1034,284,1085.7,284,1);
txt(1060,301.7,"2",{anchor:"middle",size:20});
txt(1119.3,311,"Compression",{size:18.1});
txt(1251,311,"Tension",{size:18.1});
txt(1117,67,"Failure",{anchor:"middle",size:18.3,rot:51});
txt(1108,85,"threshold",{anchor:"middle",size:18.3,rot:51});
</script></body></html>
